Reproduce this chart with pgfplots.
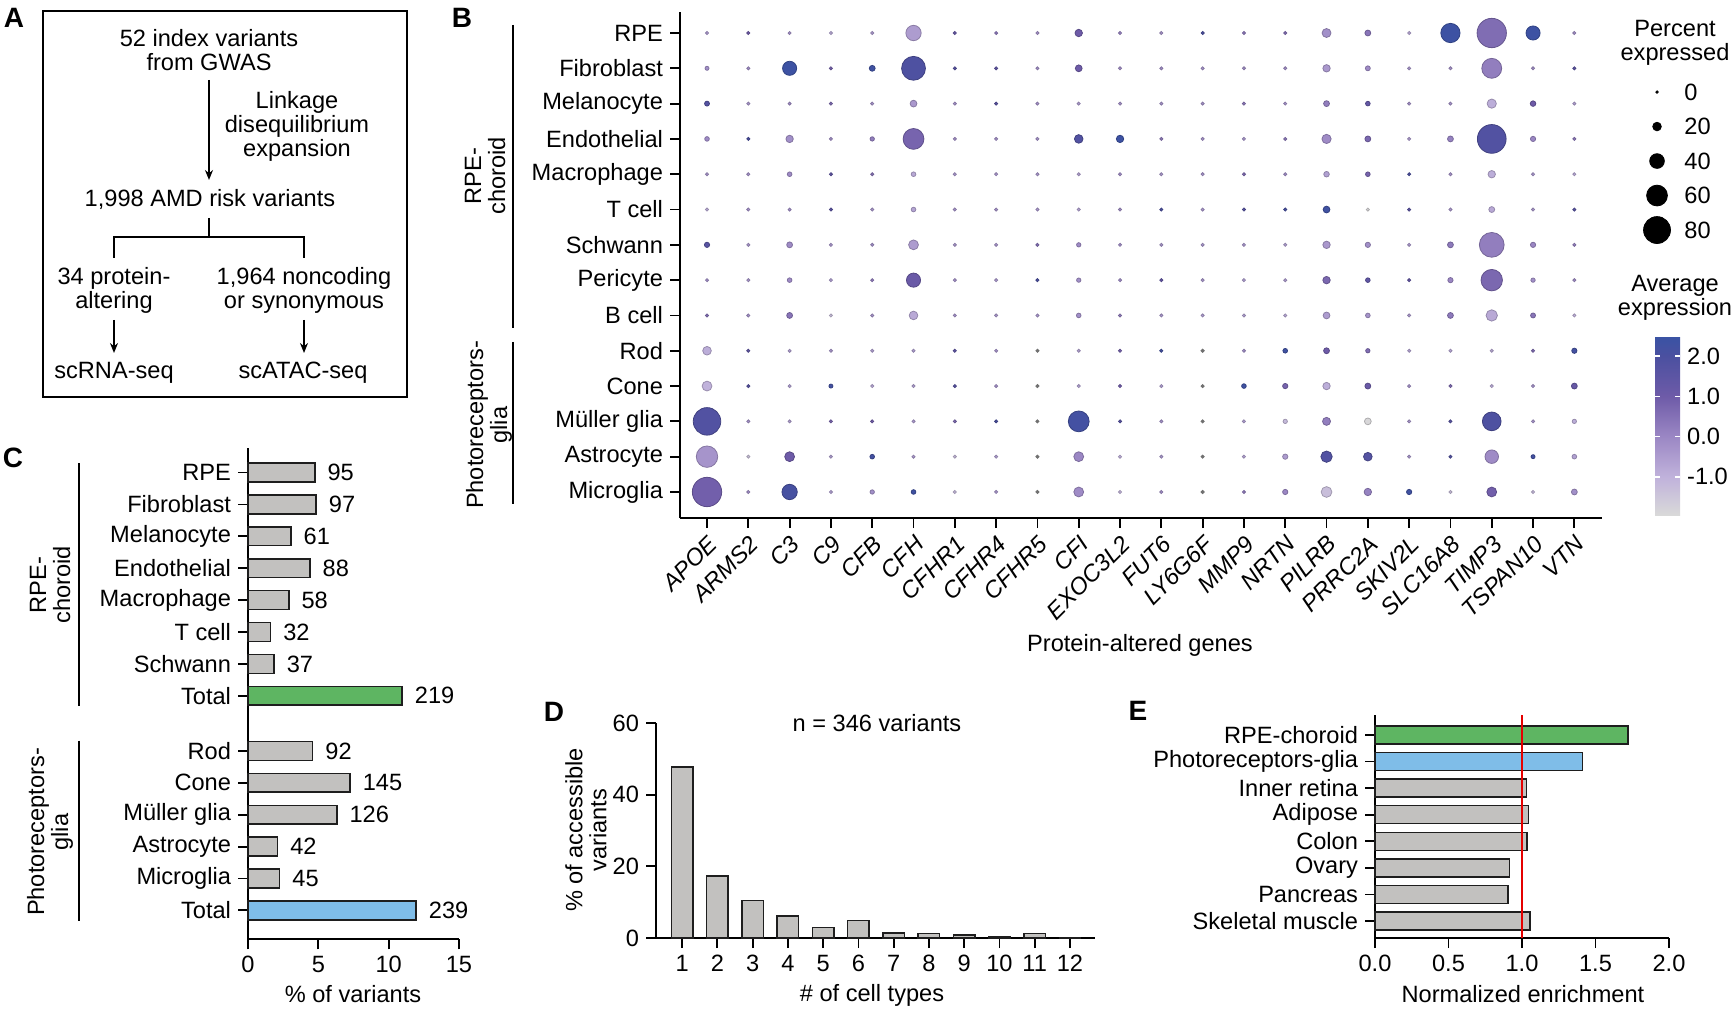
\documentclass[border=0pt]{standalone}
\usepackage{fontspec}
\setmainfont{Liberation Sans}
\usepackage{pgfplots}
\pgfplotsset{compat=1.18}
\usetikzlibrary{arrows.meta}
\pgfkeys{/pgf/number format/assume math mode=true}
\newcommand\fs{\fontsize{11.8}{12}\selectfont}
\definecolor{bargray}{RGB}{194,193,191}
\definecolor{bargreen}{RGB}{94,181,98}
\definecolor{barblue}{RGB}{127,189,232}
\definecolor{edge}{RGB}{30,30,30}
\definecolor{nagray}{RGB}{112,112,112}
\pgfplotsset{
  colormap={bdot}{rgb255(0pt)=(217,217,217) rgb255(95pt)=(192,178,219) rgb255(195pt)=(155,135,196) rgb255(295pt)=(110,91,168) rgb255(395pt)=(75,80,160) rgb255(445pt)=(57,83,164)},
  myaxis/.style={scale only axis, axis line style={-, line width=0.9pt}, tick style={line width=0.9pt, black}, major tick length=5pt, tick align=outside, every tick label/.append style={font=\fs}, clip=false},
}
\begin{document}
\begin{tikzpicture}[font=\fs]
\useasboundingbox (0pt,0pt) rectangle (866.5pt,504pt);

% ---------------- Panel A ----------------
\node[font=\fontsize{14}{14}\selectfont\bfseries] at (7pt,495pt) {A};
\draw[line width=1pt] (21.5pt,498.5pt) rectangle (203.5pt,305.5pt);
\node[align=center] at (104.5pt,479pt) {52 index variants\\from GWAS};
\draw[line width=0.75pt, -{Stealth[length=5pt,width=4pt]}] (104.5pt,464pt) -- (104.5pt,414pt);
\node[align=center] at (148.5pt,441pt) {Linkage\\disequilibrium\\expansion};
\node at (105pt,404.5pt) {1,998 AMD risk variants};
\draw[line width=0.75pt] (104.5pt,395pt) -- (104.5pt,385.5pt);
\draw[line width=0.75pt] (57pt,375pt) -- (57pt,385.5pt) -- (152pt,385.5pt) -- (152pt,375pt);
\node[align=center] at (57pt,359pt) {34 protein-\\altering};
\node[align=center] at (152pt,359pt) {1,964 noncoding\\or synonymous};
\draw[line width=0.75pt, -{Stealth[length=5pt,width=4pt]}] (57pt,344pt) -- (57pt,327.5pt);
\draw[line width=0.75pt, -{Stealth[length=5pt,width=4pt]}] (152pt,344pt) -- (152pt,327.5pt);
\node at (57pt,317.5pt) {scRNA-seq};
\node at (151.5pt,317.5pt) {scATAC-seq};

% ---------------- Panel B ----------------
\node[font=\fontsize{14}{14}\selectfont\bfseries] at (231pt,495pt) {B};
\begin{axis}[myaxis, at={(340pt,245pt)}, anchor=south west, width=461pt, height=253pt,
  xmin=-0.654, xmax=21.67, ymin=-0.737, ymax=13.595,
  axis x line*=bottom, axis y line*=left,
  xtick={0,...,21},
  xticklabels={APOE,ARMS2,C3,C9,CFB,CFH,CFHR1,CFHR4,CFHR5,CFI,EXOC3L2,FUT6,LY6G6F,MMP9,NRTN,PILRB,PRRC2A,SKIV2L,SLC16A8,TIMP3,TSPAN10,VTN},
  xticklabel style={font=\fs\itshape, rotate=45, anchor=north east, inner sep=2pt},
  ytick={0,...,13},
  yticklabels={Microglia,Astrocyte,Müller glia,Cone,Rod,B cell,Pericyte,Schwann,T cell,Macrophage,Endothelial,Melanocyte,Fibroblast,RPE},
  colormap name=bdot, point meta min=-1.95, point meta max=2.5,
  colorbar,
  colorbar style={at={(parent axis.south east)}, anchor=south west, xshift=18pt, yshift=1.5pt,
    width=12.5pt, height=89.5pt, scale only axis,
    ytick={-1,0,1,2}, ytick pos=both, yticklabel pos=right,
    yticklabel style={font=\fs, /pgf/number format/.cd, fixed, fixed zerofill, precision=1},
    axis line style={draw=none}, tick align=inside, major tick length=2.5pt,
    major tick style={white, line width=0.8pt}},
]
\addplot[scatter, only marks, mark=*, point meta=explicit,
  visualization depends on={\thisrow{p} \as \pct},
  scatter/@pre marker code/.append style={/tikz/mark size=0.625+0.07625*\pct}]
  table[x=x, y=y, meta=e, row sep=\\] {
x y p e\\
0 13 2 -0.5\\ 1 13 2 1.0\\ 2 13 2 -0.3\\ 3 13 2 -0.8\\ 4 13 2 -0.5\\ 5 13 42 -0.5\\ 6 13 2 1.2\\ 7 13 2 0.3\\ 8 13 2 -0.3\\ 9 13 16 1.0\\ 10 13 2 0\\ 11 13 2 -0.3\\ 12 13 2 2.0\\ 13 13 2 0.3\\ 14 13 2 0.5\\ 15 13 21 -0.2\\ 16 13 11 0.4\\ 17 13 2 -0.8\\ 18 13 55 2.4\\ 19 13 88 0.6\\ 20 13 38 2.4\\ 21 13 2 -0.2\\
0 12 5 -0.2\\ 1 12 2 -0.2\\ 2 12 38 2.4\\ 3 12 2 0.8\\ 4 12 11 2.3\\ 5 12 70 1.9\\ 6 12 2 1.6\\ 7 12 2 1.4\\ 8 12 2 -0.2\\ 9 12 14 1.0\\ 10 12 2 -0.2\\ 11 12 2 -0.2\\ 12 12 2 -0.3\\ 13 12 2 -0.2\\ 14 12 2 -0.2\\ 15 12 16 -0.4\\ 16 12 8 -0.1\\ 17 12 2 -0.4\\ 18 12 2 -0.3\\ 19 12 57 0.2\\ 20 12 2 -0.2\\ 21 12 2 1.5\\
0 11 8 1.7\\ 1 11 2 -0.4\\ 2 11 2 -0.2\\ 3 11 2 0.6\\ 4 11 2 -0.3\\ 5 11 14 -0.4\\ 6 11 2 -0.3\\ 7 11 2 1.5\\ 8 11 2 -0.3\\ 9 11 2 -0.5\\ 10 11 2 -0.3\\ 11 11 2 -0.3\\ 12 11 2 -0.3\\ 13 11 2 0.3\\ 14 11 2 -0.3\\ 15 11 11 0.2\\ 16 11 7 1.3\\ 17 11 2 -0.3\\ 18 11 2 -0.3\\ 19 11 22 -0.9\\ 20 11 10 1.0\\ 21 11 2 -0.6\\
0 10 7 -0.1\\ 1 10 2 2.0\\ 2 10 16 -0.2\\ 3 10 2 -0.3\\ 4 10 6 0.2\\ 5 10 60 0.8\\ 6 10 2 -0.3\\ 7 10 2 -0.3\\ 8 10 2 -0.3\\ 9 10 20 1.8\\ 10 10 16 2.4\\ 11 10 2 0.2\\ 12 10 2 -0.3\\ 13 10 2 -0.4\\ 14 10 2 0.3\\ 15 10 22 -0.1\\ 16 10 11 0.7\\ 17 10 2 -0.5\\ 18 10 11 0.1\\ 19 10 86 1.8\\ 20 10 9 0\\ 21 10 2 0.3\\
0 9 2 -0.4\\ 1 9 2 -0.3\\ 2 9 7 -0.1\\ 3 9 2 1.4\\ 4 9 2 0.4\\ 5 9 7 -0.8\\ 6 9 2 -0.4\\ 7 9 2 -0.4\\ 8 9 2 -0.4\\ 9 9 2 -0.7\\ 10 9 2 -0.2\\ 11 9 2 -0.4\\ 12 9 2 -0.3\\ 13 9 2 0.6\\ 14 9 2 -0.2\\ 15 9 10 -0.6\\ 16 9 7 0.8\\ 17 9 2 2.0\\ 18 9 2 -0.3\\ 19 9 16 -0.9\\ 20 9 2 -0.4\\ 21 9 2 -0.8\\
0 8 2 -0.9\\ 1 8 2 -0.3\\ 2 8 2 -0.2\\ 3 8 2 1.5\\ 4 8 2 -0.4\\ 5 8 7 -0.7\\ 6 8 2 -0.3\\ 7 8 2 -0.3\\ 8 8 2 -0.4\\ 9 8 2 -0.7\\ 10 8 2 -0.2\\ 11 8 2 2.0\\ 12 8 2 -0.4\\ 13 8 2 1.6\\ 14 8 2 2.1\\ 15 8 14 2.3\\ 16 8 2 -1.9\\ 17 8 2 1.5\\ 18 8 2 -0.4\\ 19 8 11 -0.8\\ 20 8 2 -0.4\\ 21 8 2 1.6\\
0 7 9 1.6\\ 1 7 2 -0.4\\ 2 7 11 -0.1\\ 3 7 2 -0.4\\ 4 7 2 -0.2\\ 5 7 24 -0.5\\ 6 7 2 -0.4\\ 7 7 2 -0.4\\ 8 7 2 0.5\\ 9 7 6 -0.1\\ 10 7 2 -0.2\\ 11 7 2 -0.4\\ 12 7 2 -0.4\\ 13 7 2 -0.4\\ 14 7 2 -0.6\\ 15 7 16 -0.4\\ 16 7 9 -0.2\\ 17 7 2 -0.5\\ 18 7 11 0.3\\ 19 7 73 0.2\\ 20 7 9 0\\ 21 7 2 0.1\\
0 6 2 -0.2\\ 1 6 2 -0.4\\ 2 6 7 -0.1\\ 3 6 2 -0.6\\ 4 6 2 0.2\\ 5 6 38 1.1\\ 6 6 2 -0.3\\ 7 6 2 -0.5\\ 8 6 2 2.0\\ 9 6 6 -0.2\\ 10 6 2 -0.2\\ 11 6 2 1.3\\ 12 6 2 -0.4\\ 13 6 2 -0.6\\ 14 6 2 -0.5\\ 15 6 16 0.7\\ 16 6 7 1.4\\ 17 6 2 1.3\\ 18 6 9 0\\ 19 6 62 0.7\\ 20 6 6 -0.2\\ 21 6 2 -0.2\\
0 5 2 0.5\\ 1 5 2 -0.3\\ 2 5 11 0.4\\ 3 5 2 -1.3\\ 4 5 2 -0.3\\ 5 5 20 -0.8\\ 6 5 2 -0.3\\ 7 5 2 -0.4\\ 8 5 2 -0.4\\ 9 5 7 -0.2\\ 10 5 2 0.2\\ 11 5 2 -0.4\\ 12 5 2 -0.5\\ 13 5 2 -0.6\\ 14 5 2 -0.8\\ 15 5 14 -0.5\\ 16 5 7 -0.3\\ 17 5 2 -0.5\\ 18 5 11 0.3\\ 19 5 29 -0.8\\ 20 5 8 0.4\\ 21 5 2 -1.0\\
0 4 20 -0.9\\ 1 4 2 1.4\\ 2 4 2 -0.6\\ 3 4 2 -0.4\\ 4 4 2 -0.6\\ 5 4 2 -0.6\\ 6 4 2 1.4\\ 7 4 2 -0.3\\ 9 4 2 -0.7\\ 10 4 2 0.8\\ 11 4 2 2.2\\ 13 4 2 -0.2\\ 14 4 7 2.3\\ 15 4 11 1.0\\ 16 4 6 0.6\\ 17 4 2 -0.7\\ 18 4 2 -0.8\\ 19 4 2 -0.9\\ 20 4 2 0.6\\ 21 4 9 2.2\\
0 3 24 -1.0\\ 1 3 2 1.6\\ 2 3 2 -0.6\\ 3 3 5 2.2\\ 4 3 2 -0.8\\ 5 3 2 -0.6\\ 6 3 2 1.6\\ 7 3 2 -0.3\\ 9 3 2 -0.7\\ 10 3 2 0.9\\ 11 3 2 -0.6\\ 13 3 7 2.3\\ 14 3 9 0.8\\ 15 3 16 -0.9\\ 16 3 11 1.1\\ 17 3 2 -0.3\\ 18 3 2 0.6\\ 19 3 2 -0.9\\ 20 3 2 -0.3\\ 21 3 11 1.2\\
0 2 82 1.8\\ 1 2 2 -0.3\\ 2 2 2 -0.6\\ 3 2 2 0.7\\ 4 2 2 0.9\\ 5 2 2 -0.5\\ 6 2 2 0.6\\ 7 2 2 2.0\\ 9 2 60 2.2\\ 10 2 2 1.6\\ 11 2 2 -0.3\\ 13 2 2 -0.6\\ 14 2 6 -1.2\\ 15 2 18 0.2\\ 16 2 14 -1.9\\ 17 2 2 -0.4\\ 18 2 2 1.6\\ 19 2 53 1.9\\ 20 2 2 -0.4\\ 21 2 6 -0.9\\
0 1 62 -0.3\\ 1 1 2 -1.4\\ 2 1 24 1.0\\ 3 1 2 -0.6\\ 4 1 7 2.2\\ 5 1 2 -0.5\\ 6 1 2 -1.2\\ 7 1 2 -0.6\\ 9 1 24 0\\ 10 1 2 -1.0\\ 11 1 2 -0.4\\ 13 1 2 -0.7\\ 14 1 9 -0.5\\ 15 1 29 1.8\\ 16 1 20 1.7\\ 17 1 2 -0.4\\ 18 1 2 1.8\\ 19 1 36 -0.1\\ 20 1 5 2.2\\ 21 1 7 -0.6\\
0 0 88 0.9\\ 1 0 2 -0.2\\ 2 0 42 2.1\\ 3 0 2 -0.6\\ 4 0 6 -0.2\\ 5 0 7 2.3\\ 6 0 2 -1.2\\ 7 0 2 -0.4\\ 9 0 24 -0.1\\ 10 0 2 -1.1\\ 11 0 2 -0.2\\ 13 0 2 0.2\\ 14 0 9 0\\ 15 0 27 -1.3\\ 16 0 16 0.1\\ 17 0 9 2.3\\ 18 0 2 -1.3\\ 19 0 24 0.9\\ 20 0 2 -1.2\\ 21 0 11 -0.2\\
};
\addplot[only marks, mark=*, mark size=0.8pt, color=nagray] coordinates {
(8,4) (8,3) (8,2) (8,1) (8,0) (12,4) (12,3) (12,2) (12,1) (12,0)};
\end{axis}
\draw[line width=0.6pt] (256.5pt,491.5pt) -- (256.5pt,340pt);
\draw[line width=0.6pt] (256.5pt,333pt) -- (256.5pt,252pt);
\node[rotate=90, align=center] at (242.5pt,416pt) {RPE-\\choroid};
\node[rotate=90, align=center] at (244.5pt,291.5pt) {Photoreceptors-\\glia};
\node at (570pt,181.5pt) {Protein-altered genes};
% size legend
\node[align=center] at (837.5pt,482.5pt) {Percent\\expressed};
\begin{axis}[at={(823.5pt,466.6pt)}, anchor=north west, width=10pt, height=86.25pt, scale only axis, hide axis, xmin=-1, xmax=1, ymin=-90, ymax=10, clip=false]
\addplot[scatter, only marks, mark=*, scatter/use mapped color={draw=black, fill=black},
  visualization depends on={\thisrow{p} \as \pct},
  scatter/@pre marker code/.append style={/tikz/mark size=0.625+0.07625*\pct}]
  table[x=x, y=y, row sep=\\] {x y p\\ 0 0 0\\ 0 -20 20\\ 0 -40 40\\ 0 -60 60\\ 0 -80 80\\};
\node[anchor=west, inner sep=0pt] at (axis cs:2.7,0) {0};
\node[anchor=west, inner sep=0pt] at (axis cs:2.7,-20) {20};
\node[anchor=west, inner sep=0pt] at (axis cs:2.7,-40) {40};
\node[anchor=west, inner sep=0pt] at (axis cs:2.7,-60) {60};
\node[anchor=west, inner sep=0pt] at (axis cs:2.7,-80) {80};
\end{axis}
\node[align=center] at (837.5pt,355pt) {Average\\expression};

% ---------------- Panel C ----------------
\node[font=\fontsize{14}{14}\selectfont\bfseries] at (6.5pt,275.25pt) {C};
\begin{axis}[myaxis, at={(124pt,34.35pt)}, anchor=south west, width=105.5pt, height=245.65pt,
  xmin=0, xmax=15, ymin=-0.907, ymax=14.5,
  axis x line*=bottom, axis y line*=left,
  xbar, bar width=9.4pt, bar shift=0pt,
  xtick={0,5,10,15},
  ytick={0,1,2,3,4,5,6.73,7.73,8.73,9.73,10.73,11.73,12.73,13.73},
  yticklabels={Total,Microglia,Astrocyte,Müller glia,Cone,Rod,Total,Schwann,T cell,Macrophage,Endothelial,Melanocyte,Fibroblast,RPE},
  nodes near coords, point meta=explicit symbolic,
  nodes near coords style={anchor=west, inner sep=0pt, xshift=6pt, font=\fs, black},
]
\addplot[fill=bargray, draw=edge, line width=0.75pt] table[x=x, y=y, meta=n, row sep=\\] {
x y n\\ 2.25 1 45\\ 2.10 2 42\\ 6.31 3 126\\ 7.26 4 145\\ 4.60 5 92\\ 1.85 7.73 37\\ 1.60 8.73 32\\ 2.90 9.73 58\\ 4.40 10.73 88\\ 3.05 11.73 61\\ 4.85 12.73 97\\ 4.75 13.73 95\\};
\addplot[fill=bargreen, draw=edge, line width=0.75pt] table[x=x, y=y, meta=n, row sep=\\] {x y n\\ 10.96 6.73 219\\};
\addplot[fill=barblue, draw=edge, line width=0.75pt] table[x=x, y=y, meta=n, row sep=\\] {x y n\\ 11.96 0 239\\};
\end{axis}
\draw[line width=0.6pt] (39.5pt,272.5pt) -- (39.5pt,151.15pt);
\draw[line width=0.6pt] (39.5pt,133.7pt) -- (39.5pt,43.7pt);
\node[rotate=90, align=center] at (25pt,211.5pt) {RPE-\\choroid};
\node[rotate=90, align=center] at (25pt,88pt) {Photoreceptors-\\glia};
\node at (176.5pt,7.2pt) {\% of variants};

% ---------------- Panel D ----------------
\node[font=\fontsize{14}{14}\selectfont\bfseries] at (277pt,148pt) {D};
\begin{axis}[myaxis, at={(328pt,35pt)}, anchor=south west, width=219.5pt, height=107.5pt,
  xmin=0.26, xmax=12.71, ymin=0, ymax=60,
  axis x line*=bottom, axis y line*=left,
  ybar, bar width=10.7pt, bar shift=0pt,
  xtick={1,...,12}, ytick={0,20,40,60},
]
\addplot[fill=bargray, draw=edge, line width=0.75pt] coordinates {
(1,47.7) (2,17.3) (3,10.4) (4,6.1) (5,2.9) (6,4.9) (7,1.4) (8,1.2) (9,0.9) (10,0.3) (11,1.2) (12,0.2)};
\end{axis}
\node[rotate=90, align=center] at (293pt,89pt) {\% of accessible\\variants};
\node at (436pt,6.5pt) {\# of cell types};
\node at (438.5pt,142.5pt) {n = 346 variants};

% ---------------- Panel E ----------------
\node[font=\fontsize{14}{14}\selectfont\bfseries] at (569pt,148.5pt) {E};
\begin{axis}[myaxis, at={(687.5pt,35pt)}, anchor=south west, width=147pt, height=111.5pt,
  xmin=0, xmax=2, ymin=-0.64, ymax=7.75,
  axis x line*=bottom, axis y line*=left,
  bar width=9pt, bar shift=0pt,
  xtick={0,0.5,1,1.5,2},
  xticklabel style={/pgf/number format/.cd, fixed, fixed zerofill, precision=1},
  ytick={0,...,7},
  yticklabels={Skeletal muscle,Pancreas,Ovary,Colon,Adipose,Inner retina,Photoreceptors-glia,RPE-choroid},
]
\addplot[xbar, fill=bargray, draw=edge, line width=0.75pt] coordinates {
(1.055,0) (0.905,1) (0.915,2) (1.035,3) (1.045,4) (1.03,5)};
\addplot[xbar, fill=barblue, draw=edge, line width=0.75pt] coordinates {(1.41,6)};
\addplot[xbar, fill=bargreen, draw=edge, line width=0.75pt] coordinates {(1.72,7)};
\addplot[red!90!black, line width=0.6pt, no marks] coordinates {(1,-0.64) (1,7.75)};
\end{axis}
\node at (761.5pt,7pt) {Normalized enrichment};
\end{tikzpicture}
\end{document}
